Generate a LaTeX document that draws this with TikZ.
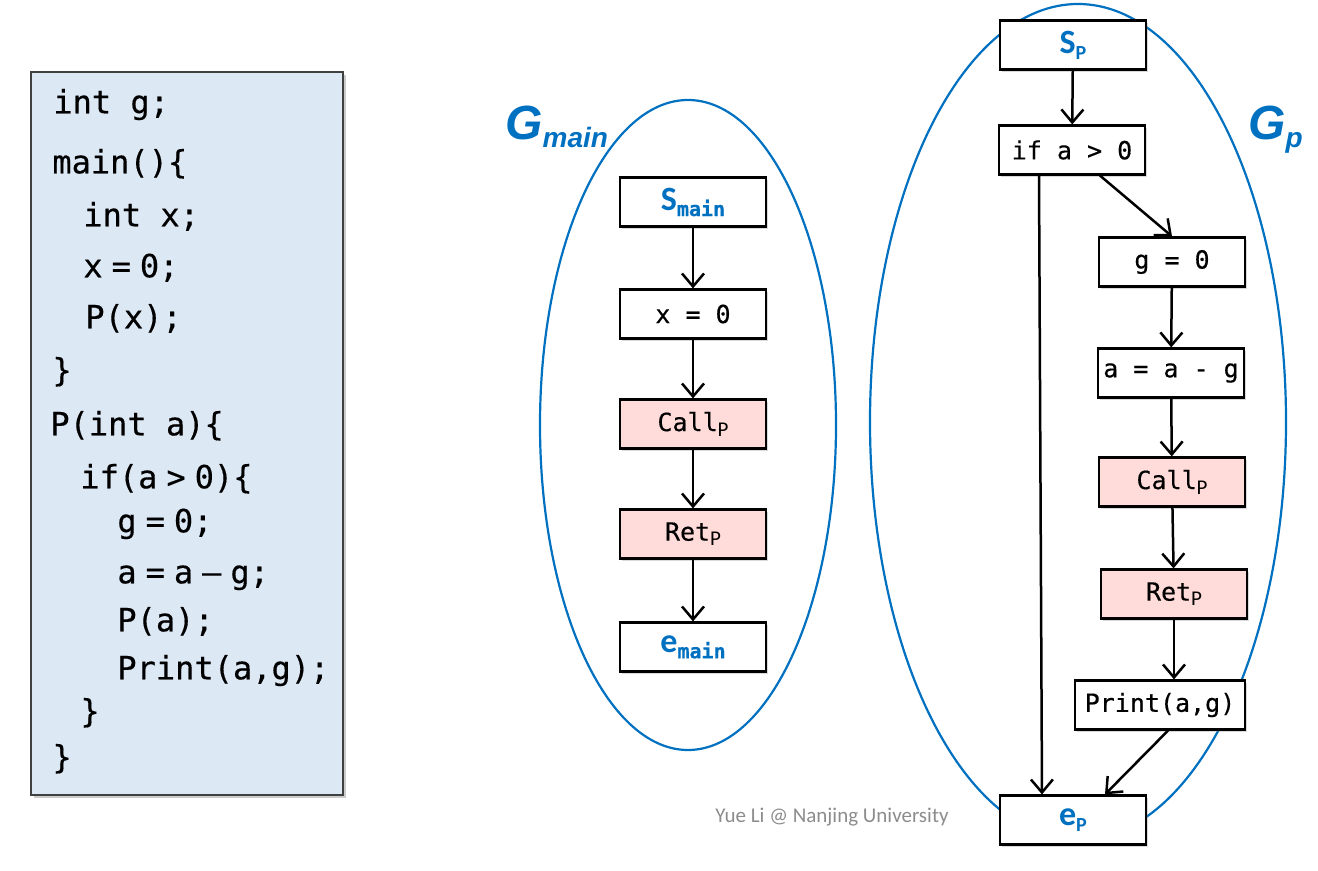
\documentclass[tikz,border=0pt]{standalone}
\usepackage{fontspec}
\setmonofont[FakeBold=0.4]{DejaVu Sans Mono}
\newfontfamily\calfont{Carlito}
\newfontfamily\arialfont{Liberation Sans}
\usetikzlibrary{arrows.meta,shadows}

\definecolor{gblue}{RGB}{0,112,192}
\definecolor{codebg}{RGB}{221,232,245}
\definecolor{callpink}{RGB}{255,220,218}
\newcommand\gap{\hspace{4.5pt}}
\newcommand\psub{\raisebox{-2.5pt}{\calfont\fontsize{10.5}{10}\selectfont P}}
\newcommand\bnd[2]{\textcolor{gblue}{{\calfont\bfseries\fontsize{17}{17}\selectfont #1}\raisebox{-3pt}{\bfseries\fontsize{10}{10}\selectfont #2}}}

\tikzset{
  cfgbox/.style={draw, line width=1.1pt, fill=white, minimum width=73pt, minimum height=24.5pt, inner sep=0pt,
    font=\ttfamily\fontsize{12.5}{14}\selectfont, drop shadow={shadow xshift=1.2pt, shadow yshift=-1.2pt, opacity=.3}},
  callbox/.style={cfgbox, fill=callpink},
  flow/.style={line width=1.25pt, -{Straight Barb[length=6.5pt,width=11pt,line width=1.25pt]}},
  region/.style={draw=gblue, line width=1.1pt},
  codeline/.style={anchor=mid west, inner sep=0pt, font=\ttfamily\fontsize{16}{18}\selectfont},
  glabel/.style={anchor=base west, inner sep=0pt, text=gblue, font=\arialfont\bfseries\itshape\fontsize{24}{24}\selectfont}
}

\begin{document}
\begin{tikzpicture}[x=0.5pt,y=-0.5pt]
    \useasboundingbox (0,0) rectangle (1318,871);

    \filldraw[fill=codebg, draw=black!75, line width=1pt,
      drop shadow={shadow xshift=1.5pt, shadow yshift=-1.5pt, opacity=.4}] (31,72) rectangle (343,795);
    \foreach \y/\x/\t [count=\i] in {109/53/int g;, 169/52/main()\{, 222/83/int x;, 273/83/x\gap=\gap0;,
        324/85/P(x);, 377/52/\}, 431/50/P(int a)\{, 484/80/if(a\gap>\gap0)\{, 528/117/g\gap=\gap0;,
        579/117/a\gap=\gap a\gap–\gap g;, 627/117/P(a);, {675/117/Print(a,g);}, 718/80/\}, 764/52/\}}
      \node[codeline] (code\i) at (\x,\y) {\t};

    \draw[region] (688,425) ellipse [x radius=74pt, y radius=162.5pt];
    \draw[region] (1078,422) ellipse [x radius=104pt, y radius=209pt];
    \node[glabel] (gmain) at (505,140) {G\raisebox{-4pt}{\fontsize{14}{14}\selectfont main}};
    \node[glabel] (gp) at (1248,140) {G\raisebox{-4pt}{\fontsize{14}{14}\selectfont p}};

    \node[cfgbox] (smain) at (693,202) {\bnd{S}{\ttfamily main}};
    \node[cfgbox] (xzero) at (693,314) {x = 0};
    \node[callbox] (call1) at (693,424) {Call\psub};
    \node[callbox] (ret1) at (693,534) {Ret\psub};
    \node[cfgbox] (emain) at (693,647) {\bnd{e}{\ttfamily main}};

    \node[cfgbox] (sp) at (1073,45) {\bnd{S}{\calfont P}};
    \node[cfgbox] (ifa) at (1072,150) {if a > 0};
    \node[cfgbox] (gzero) at (1172,262) {g = 0};
    \node[cfgbox] (aag) at (1171,373) {a = a - g};
    \node[callbox] (call2) at (1172,482) {Call\psub};
    \node[callbox] (ret2) at (1174,594) {Ret\psub};
    \node[cfgbox, minimum width=85pt] (print) at (1160,705) {Print(a,g)};
    \node[cfgbox] (ep) at (1073,820) {\bnd{e}{\calfont P}};

    \draw[flow] (smain) -- (xzero);
    \draw[flow] (xzero) -- (call1);
    \draw[flow] (call1) -- (ret1);
    \draw[flow] (ret1) -- (emain);

    \draw[flow] (sp) -- (ifa);
    \draw[flow] ([xshift=14pt]ifa.south) -- (gzero.north);
    \draw[flow] ([xshift=-16.5pt]ifa.south) -- ([xshift=-15.5pt]ep.north);
    \draw[flow] (gzero) -- (aag);
    \draw[flow] (aag) -- (call2);
    \draw[flow] (call2) -- (ret2);
    \draw[flow] (ret2.south) -- (ret2.south |- print.north);
    \draw[flow] ([xshift=4pt]print.south) -- ([xshift=16pt]ep.north);

    \node[text=black!45, font=\calfont\fontsize{10.5}{11}\selectfont] (credit) at (832,817) {Yue Li @ Nanjing University};
\end{tikzpicture}
\end{document}
